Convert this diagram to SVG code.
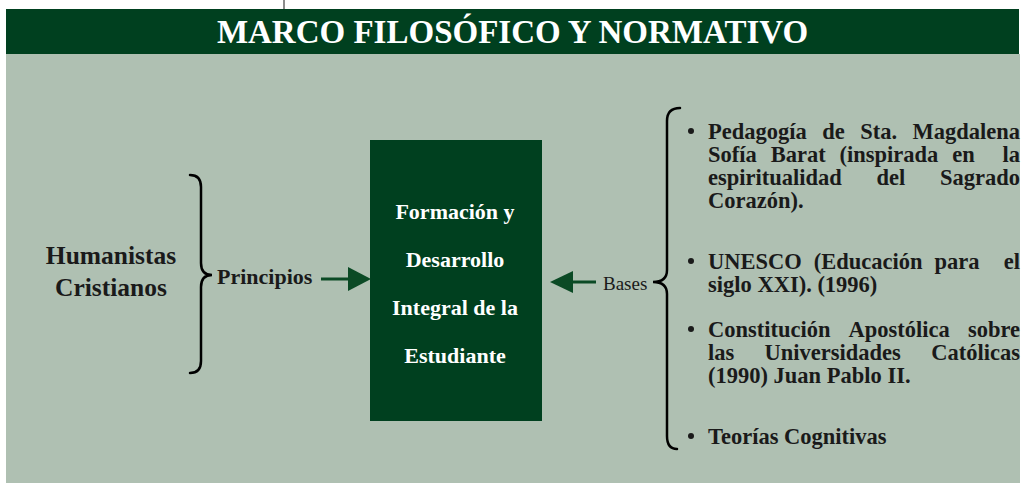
<svg xmlns="http://www.w3.org/2000/svg" width="1026" height="483" viewBox="0 0 1026 483">
<style>
.serif{font-family:"Liberation Serif","Times New Roman",serif;}
.title{font-size:33px;font-weight:bold;fill:#ffffff;}
.hum{font-size:25.5px;font-weight:bold;fill:#1a1a1a;}
.lbl{font-size:22px;font-weight:bold;fill:#1a1a1a;}
.bases{font-size:19px;fill:#1a1a1a;}
.box{font-size:22px;font-weight:bold;fill:#ffffff;}
.item{font-size:22.5px;font-weight:bold;fill:#1a1a1a;}
.brace{fill:none;stroke:#000000;stroke-width:2.5;stroke-linecap:round;}
.conn{stroke:#0b4a25;stroke-width:3;fill:none;}
.head{fill:#0b4a25;}
.dot{fill:#1a1a1a;}
</style>
<rect x="0" y="0" width="1026" height="483" fill="#ffffff"/>
<line x1="284" y1="0" x2="284" y2="9" stroke="#666666" stroke-width="1.5"/>
<g id="background">
<rect x="6" y="54" width="1014" height="429" fill="#afc0b2"/>
</g>
<g id="title">
<rect x="6" y="9" width="1013" height="45" fill="#00401f"/>
<text class="serif title" x="512.5" y="43" text-anchor="middle">MARCO FILOSÓFICO Y NORMATIVO</text>
</g>
<g id="humanistas">
<text class="serif hum" x="111" y="264" text-anchor="middle">Humanistas</text>
<text class="serif hum" x="111" y="296" text-anchor="middle">Cristianos</text>
<path class="brace" d="M190,175 Q201,175 201,187 L201,263 Q201,275 212,275 Q201,275 201,287 L201,361 Q201,373 190,373"/>
</g>
<g id="principios">
<text class="serif lbl" x="217" y="284">Principios</text>
</g>
<g id="formacion">
<rect x="370" y="140" width="172" height="281" fill="#00401f"/>
<text class="serif box" x="455" y="219" text-anchor="middle">Formación y</text>
<text class="serif box" x="455" y="267" text-anchor="middle">Desarrollo</text>
<text class="serif box" x="455" y="315" text-anchor="middle">Integral de la</text>
<text class="serif box" x="455" y="363" text-anchor="middle">Estudiante</text>
</g>
<g id="bases">
<text class="serif bases" x="603" y="290">Bases</text>
<path class="brace" d="M680,108 Q667,108 667,121 L667,270 Q667,282 653,282 Q667,282 667,294 L667,436 Q667,449 677,449"/>
</g>
<g id="connectors">
<line class="conn" x1="321" y1="279" x2="350" y2="279"/>
<polygon class="head" points="348,267 371,279 348,291"/>
<line class="conn" x1="571" y1="282" x2="596" y2="282"/>
<polygon class="head" points="550,282 573,271 573,293"/>
</g>
<g id="lista">
<circle class="dot" cx="691" cy="131" r="3"/>
<text class="serif item" y="139"><tspan x="708">Pedagogía</tspan><tspan x="822.2">de</tspan><tspan x="860.2">Sta.</tspan><tspan x="1020" text-anchor="end">Magdalena</tspan></text>
<text class="serif item" y="162"><tspan x="708">Sofía</tspan><tspan x="770.7">Barat</tspan><tspan x="839.5">(inspirada</tspan><tspan x="952.2">en</tspan><tspan x="1020" text-anchor="end">la</tspan></text>
<text class="serif item" y="185"><tspan x="708">espiritualidad</tspan><tspan x="876.5">del</tspan><tspan x="1020" text-anchor="end">Sagrado</tspan></text>
<text class="serif item" x="708" y="208">Corazón).</text>
<circle class="dot" cx="691" cy="261" r="3"/>
<text class="serif item" y="269"><tspan x="708">UNESCO</tspan><tspan x="813.8">(Educación</tspan><tspan x="934.6">para</tspan><tspan x="1020" text-anchor="end">el</tspan></text>
<text class="serif item" x="708" y="292">siglo XXI). (1996)</text>
<circle class="dot" cx="691" cy="329" r="3"/>
<text class="serif item" y="337"><tspan x="708">Constitución</tspan><tspan x="848.4">Apostólica</tspan><tspan x="1020" text-anchor="end">sobre</tspan></text>
<text class="serif item" y="360"><tspan x="708">las</tspan><tspan x="764.6">Universidades</tspan><tspan x="1020" text-anchor="end">Católicas</tspan></text>
<text class="serif item" x="708" y="383">(1990) Juan Pablo II.</text>
<circle class="dot" cx="691" cy="436" r="3"/>
<text class="serif item" x="708" y="444">Teorías Cognitivas</text>
</g>
</svg>
